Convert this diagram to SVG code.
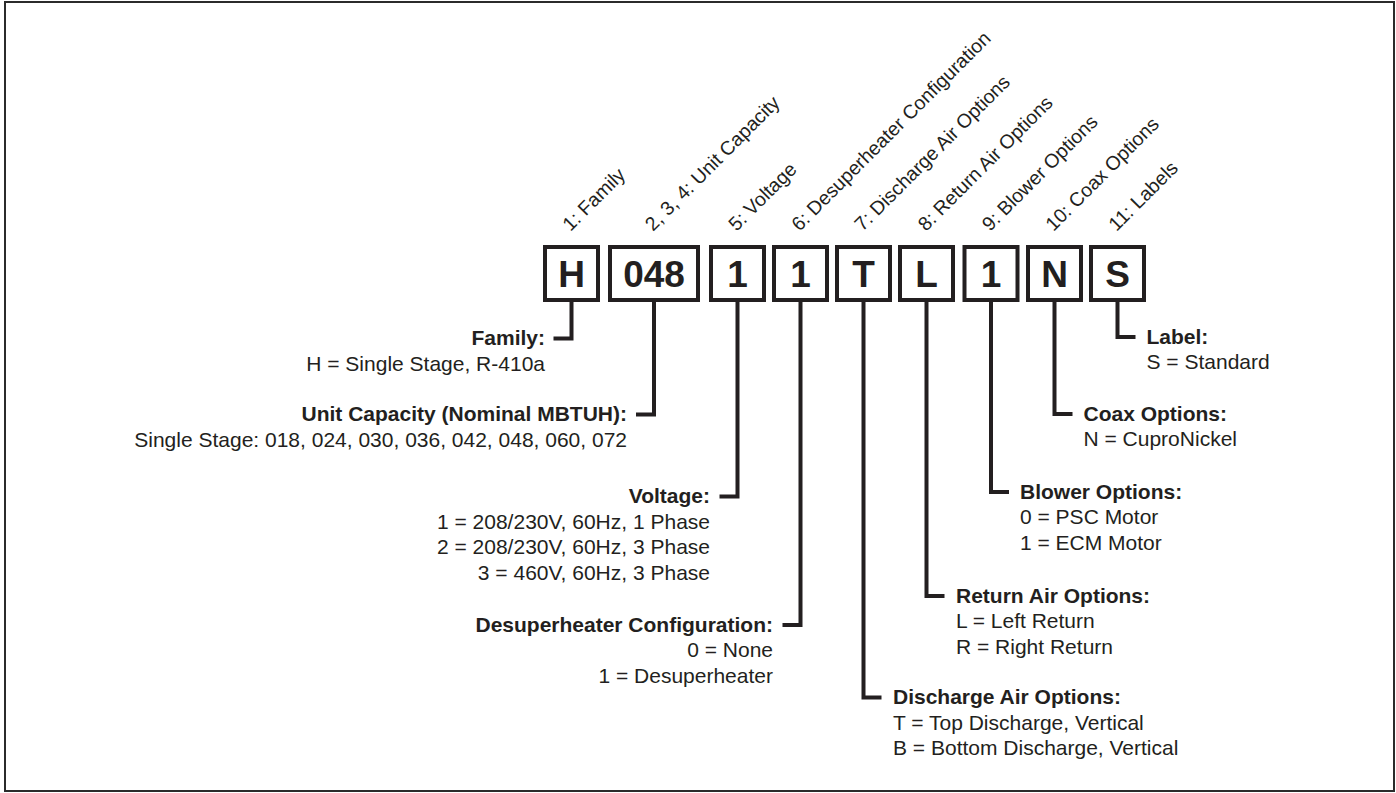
<svg xmlns="http://www.w3.org/2000/svg" width="1396" height="793" viewBox="0 0 1396 793">
<style>
.frame{fill:#ffffff;stroke:#2b2b2b;stroke-width:2}
.box{fill:#ffffff;stroke:#231f20;stroke-width:4}
.code{font-family:"Liberation Sans",Arial,Helvetica,sans-serif;font-weight:bold;font-size:37px;fill:#231f20;text-anchor:middle}
.pos{font-family:"Liberation Sans",Arial,Helvetica,sans-serif;font-size:19.5px;fill:#231f20}
.hd{font-family:"Liberation Sans",Arial,Helvetica,sans-serif;font-weight:bold;font-size:21px;fill:#231f20}
.tx{font-family:"Liberation Sans",Arial,Helvetica,sans-serif;font-size:21px;fill:#231f20}
.end{text-anchor:end}
.conn{fill:none;stroke:#231f20;stroke-width:4;stroke-linejoin:miter;stroke-linecap:butt}
</style>
<rect x="0" y="0" width="1396" height="793" fill="#ffffff"/>
<rect class="frame" x="5" y="2" width="1389" height="789"/>

<g id="position-labels">
<text class="pos" transform="translate(570.5,232) rotate(-45)">1: Family</text>
<text class="pos" transform="translate(653,232) rotate(-45)">2, 3, 4: Unit Capacity</text>
<text class="pos" transform="translate(736.5,232) rotate(-45)">5: Voltage</text>
<text class="pos" transform="translate(799.5,232) rotate(-45)">6: Desuperheater Configuration</text>
<text class="pos" transform="translate(862.5,232) rotate(-45)">7: Discharge Air Options</text>
<text class="pos" transform="translate(926,232) rotate(-45)">8: Return Air Options</text>
<text class="pos" transform="translate(990,232) rotate(-45)">9: Blower Options</text>
<text class="pos" transform="translate(1053.5,232) rotate(-45)">10: Coax Options</text>
<text class="pos" transform="translate(1116.5,232) rotate(-45)">11: Labels</text>
</g>

<g id="connectors">
<path class="conn" d="M553.5,338.5 H571.5 V300"/>
<path class="conn" d="M636,414.5 H654 V300"/>
<path class="conn" d="M719.5,496.5 H737.5 V300"/>
<path class="conn" d="M782.5,625 H800.5 V300"/>
<path class="conn" d="M881.5,697.5 H863.5 V300"/>
<path class="conn" d="M944.5,596 H926.5 V300"/>
<path class="conn" d="M1009,492 H991 V300"/>
<path class="conn" d="M1072.5,414 H1054.5 V300"/>
<path class="conn" d="M1135.5,337 H1117.5 V300"/>
</g>

<g id="box-H"><rect class="box" x="545" y="247" width="53" height="53"/><text class="code" x="571.5" y="286.5">H</text></g>
<g id="box-048"><rect class="box" x="610" y="247" width="88" height="53"/><text class="code" x="654" y="286.5">048</text></g>
<g id="box-voltage"><rect class="box" x="711" y="247" width="53" height="53"/><text class="code" x="737.5" y="286.5">1</text></g>
<g id="box-desup"><rect class="box" x="774" y="247" width="53" height="53"/><text class="code" x="800.5" y="286.5">1</text></g>
<g id="box-T"><rect class="box" x="837" y="247" width="53" height="53"/><text class="code" x="863.5" y="286.5">T</text></g>
<g id="box-L"><rect class="box" x="900" y="247" width="53" height="53"/><text class="code" x="926.5" y="286.5">L</text></g>
<g id="box-blower"><rect class="box" x="964.5" y="247" width="53" height="53"/><text class="code" x="991" y="286.5">1</text></g>
<g id="box-N"><rect class="box" x="1028" y="247" width="53" height="53"/><text class="code" x="1054.5" y="286.5">N</text></g>
<g id="box-S"><rect class="box" x="1091" y="247" width="53" height="53"/><text class="code" x="1117.5" y="286.5">S</text></g>

<g id="desc-family">
<text class="hd end" x="545" y="345">Family:</text>
<text class="tx end" x="545" y="370.5">H = Single Stage, R-410a</text>
</g>
<g id="desc-capacity">
<text class="hd end" x="627" y="421">Unit Capacity (Nominal MBTUH):</text>
<text class="tx end" x="627" y="446.5">Single Stage: 018, 024, 030, 036, 042, 048, 060, 072</text>
</g>
<g id="desc-voltage">
<text class="hd end" x="710" y="503">Voltage:</text>
<text class="tx end" x="710" y="528.5">1 = 208/230V, 60Hz, 1 Phase</text>
<text class="tx end" x="710" y="554">2 = 208/230V, 60Hz, 3 Phase</text>
<text class="tx end" x="710" y="579.5">3 = 460V, 60Hz, 3 Phase</text>
</g>
<g id="desc-desuperheater">
<text class="hd end" x="773" y="631.5">Desuperheater Configuration:</text>
<text class="tx end" x="773" y="657">0 = None</text>
<text class="tx end" x="773" y="682.5">1 = Desuperheater</text>
</g>
<g id="desc-discharge">
<text class="hd" x="893" y="704">Discharge Air Options:</text>
<text class="tx" x="893" y="729.5">T = Top Discharge, Vertical</text>
<text class="tx" x="893" y="755">B = Bottom Discharge, Vertical</text>
</g>
<g id="desc-return">
<text class="hd" x="956" y="602.5">Return Air Options:</text>
<text class="tx" x="956" y="628">L = Left Return</text>
<text class="tx" x="956" y="653.5">R = Right Return</text>
</g>
<g id="desc-blower">
<text class="hd" x="1020" y="498.5">Blower Options:</text>
<text class="tx" x="1020" y="524">0 = PSC Motor</text>
<text class="tx" x="1020" y="549.5">1 = ECM Motor</text>
</g>
<g id="desc-coax">
<text class="hd" x="1083.5" y="420.5">Coax Options:</text>
<text class="tx" x="1083.5" y="446">N = CuproNickel</text>
</g>
<g id="desc-label">
<text class="hd" x="1146.5" y="343.5">Label:</text>
<text class="tx" x="1146.5" y="369">S = Standard</text>
</g>
</svg>
